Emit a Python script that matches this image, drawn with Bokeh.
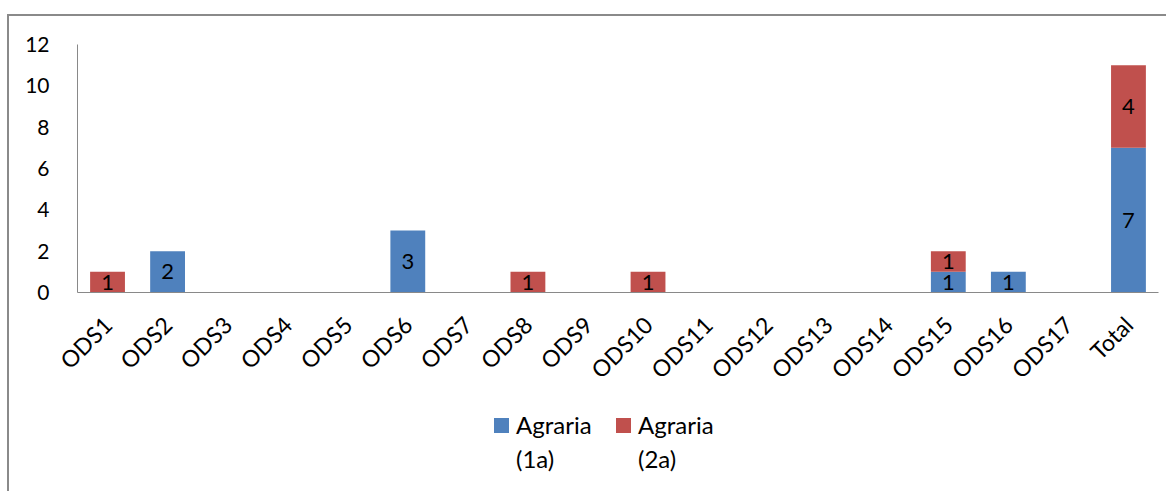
import math
from bokeh.plotting import figure
from bokeh.layouts import column
from bokeh.models import ColumnDataSource, FixedTicker, LabelSet, Div
from bokeh.core.properties import value
from bokeh.embed import file_html
from bokeh.resources import INLINE

categories = ["ODS1", "ODS2", "ODS3", "ODS4", "ODS5", "ODS6", "ODS7", "ODS8", "ODS9",
              "ODS10", "ODS11", "ODS12", "ODS13", "ODS14", "ODS15", "ODS16", "ODS17", "Total"]
agraria_1a = [0, 2, 0, 0, 0, 3, 0, 0, 0, 0, 0, 0, 0, 0, 1, 1, 0, 7]
agraria_2a = [1, 0, 0, 0, 0, 0, 0, 1, 0, 1, 0, 0, 0, 0, 1, 0, 0, 4]
series_names = ["Agraria\n(1a)", "Agraria\n(2a)"]
y_ticks = [0, 2, 4, 6, 8, 10, 12]

BLUE = "#4F81BD"
RED = "#C0504D"
FONT = "Lato"
GRAY = "#898989"
FS = "21px"

src = ColumnDataSource(dict(cat=categories, a=agraria_1a, b=agraria_2a))

p = figure(x_range=categories, y_range=(0, 12), width=1159, height=376,
           frame_width=1083, frame_height=248,
           min_border_left=68, min_border_top=28, min_border_right=8, min_border_bottom=100,
           output_backend="svg", toolbar_location=None)

r = p.vbar_stack(["a", "b"], x="cat", width=0.58, source=src, color=[BLUE, RED],
                 line_color=None)

# labels (only non-zero segments)
lx, ly, lt = [], [], []
for c, a, b in zip(categories, agraria_1a, agraria_2a):
    if a:
        lx.append(c); ly.append(a / 2); lt.append(str(a))
    if b:
        lx.append(c); ly.append(a + b / 2); lt.append(str(b))
lsrc = ColumnDataSource(dict(x=lx, y=ly, t=lt))
labels = LabelSet(x="x", y="y", text="t", source=lsrc, text_align="center",
                  text_baseline="middle", text_font=value(FONT), text_font_size="22px",
                  text_color="black")
p.add_layout(labels)

p.xgrid.visible = False
p.ygrid.visible = False
p.outline_line_color = None
p.background_fill_color = "white"
p.border_fill_color = "white"

p.yaxis.ticker = FixedTicker(ticks=y_ticks)
for ax in (p.xaxis[0], p.yaxis[0]):
    ax.axis_line_color = GRAY
    ax.axis_line_width = 1
    ax.major_tick_line_color = None
    ax.minor_tick_line_color = None
    ax.major_label_text_font = FONT
    ax.major_label_text_font_size = FS
    ax.major_label_text_color = "black"
p.yaxis.major_label_standoff = 22
p.xaxis.major_label_orientation = math.pi / 4
p.xaxis.major_label_text_font_size = "23px"
p.xaxis.major_label_standoff = 22

# legend as HTML below the chart
item_left = [480, 602]
parts = []
for name, col, left in zip(series_names, [BLUE, RED], item_left):
    parts.append(
        f'<div style="position:absolute;left:{left}px;top:17px;width:15px;height:15px;'
        f'background:{col};"></div>'
        f'<div style="position:absolute;left:{left + 22}px;top:7px;line-height:34px;'
        f'font-family:Lato;font-size:24px;color:black;white-space:nowrap;">'
        + name.replace("\n", "<br>") + '</div>')
legend_div = Div(text='<div style="position:relative;width:1159px;height:99px;">'
                 + "".join(parts) + "</div>", width=1159, height=99)

layout = column(p, legend_div, spacing=0, width=1159)
layout.styles = {"border-top": "2px solid #8a8a8a", "border-left": "2px solid #8a8a8a",
                 "margin-left": "7px", "margin-top": "14px"}

open("out.html", "w").write(file_html(layout, INLINE))
